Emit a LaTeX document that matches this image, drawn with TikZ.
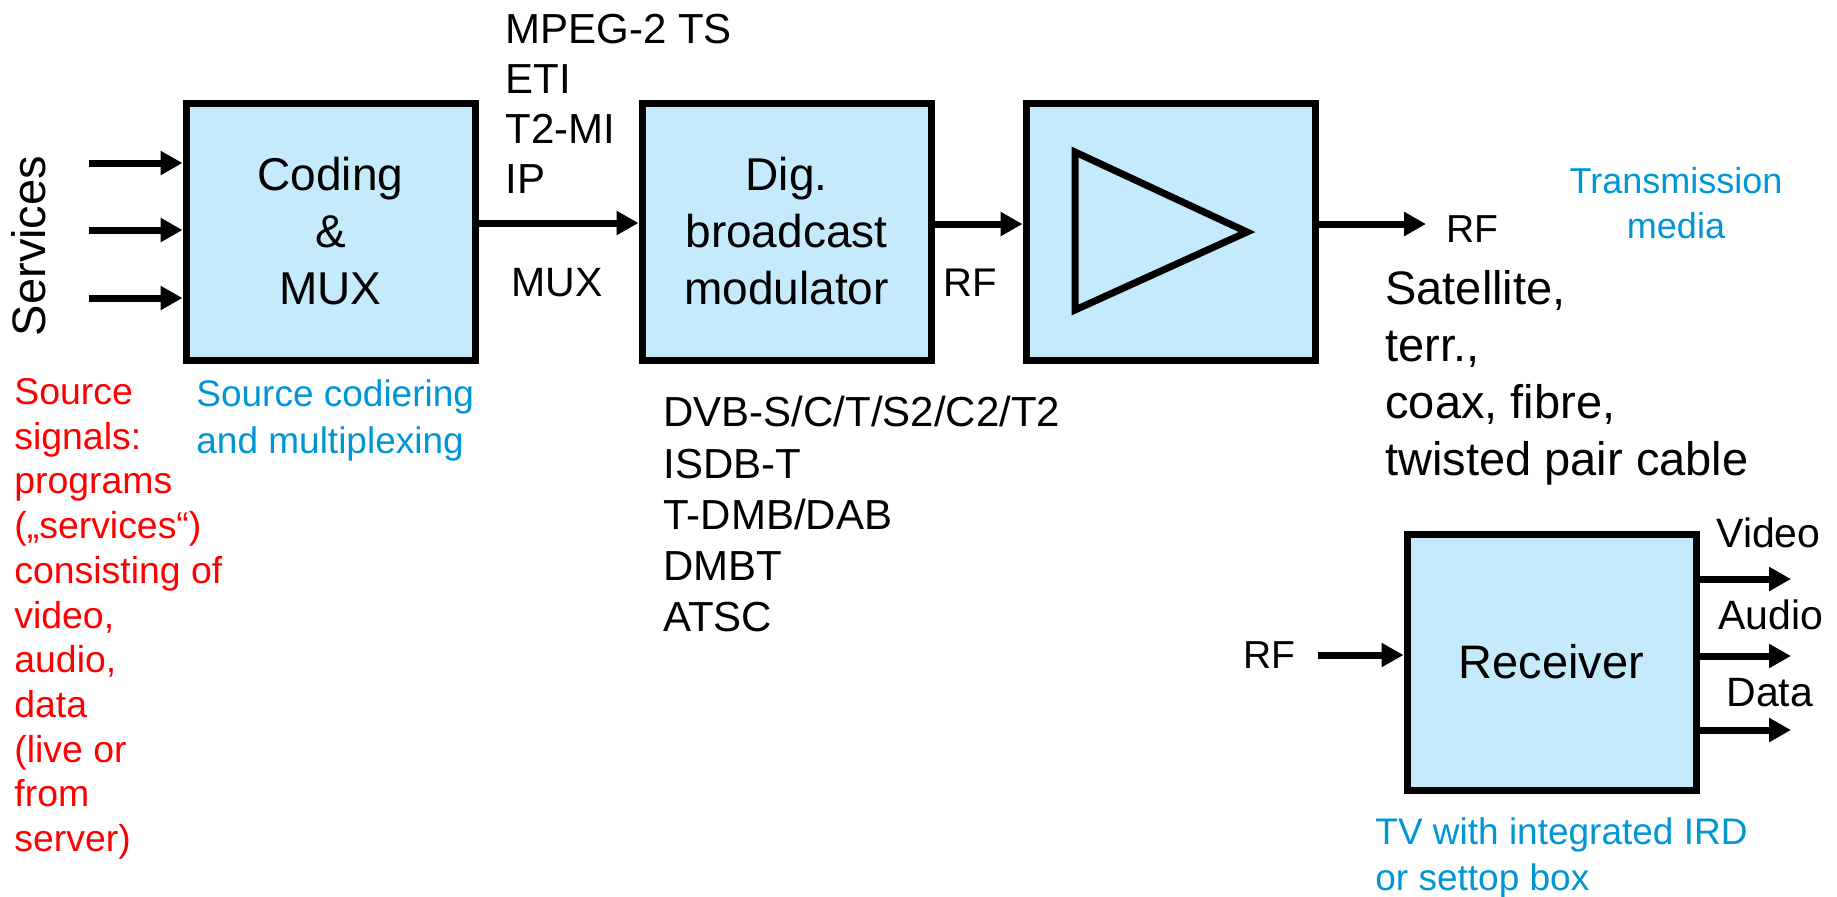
\documentclass[tikz,border=0pt]{standalone}
\usepackage{fontspec}
\setmainfont{Liberation Sans}
\usetikzlibrary{arrows.meta}
\definecolor{boxfill}{HTML}{C4EAFB}
\definecolor{bluetxt}{HTML}{0096D6}
\definecolor{redtxt}{HTML}{FF0000}
\begin{document}
\begin{tikzpicture}[x=0.5pt,y=-0.5pt,
  blk/.style={draw=black, line width=3.5pt, fill=boxfill, inner sep=0pt, align=center,
    minimum width=144.5pt, minimum height=128.5pt,
    font=\fontsize{23}{28.5}\selectfont},
  arr/.style={line width=3.5pt, -{Triangle[length=11pt,width=11.5pt]}},
  lbl/.style={inner sep=0pt, align=left},
  txt/.style={inner sep=0pt},
]
\useasboundingbox (0,0) rectangle (1837,896);

% blocks
\node[blk] (coding) at (330.5,231.5) {Coding\\\&\\MUX};
\node[blk] (dig) at (786.5,231.5) {Dig.\\broadcast\\modulator};
\node[blk] (amp) at (1170.5,231.5) {};
\node[blk, font=\fontsize{23.5}{28}\selectfont, minimum height=128pt] (rx) at (1551.5,662) {Receiver};

% amplifier symbol
\draw[line width=3.5pt, line join=miter] (1075,152) -- (1247,232) -- (1075,310) -- cycle;

% services inputs
\coordinate (s1) at (89,163);
\coordinate (s2) at (89,230);
\coordinate (s3) at (89,298);
\draw[arr] (s1) -- (s1 -| coding.west);
\draw[arr] (s2) -- (s2 -| coding.west);
\draw[arr] (s3) -- (s3 -| coding.west);

% chain
\draw[arr] ([yshift=4.25pt]coding.east) -- ([yshift=4.25pt]dig.west);
\draw[arr] ([yshift=3.75pt]dig.east) -- ([yshift=3.75pt]amp.west);
\coordinate (rfo) at (1426,224);
\draw[arr] (rfo -| amp.east) -- (rfo);

% receiver
\coordinate (rin) at (1318,655);
\draw[arr] (rin) -- (rin -| rx.west);
\coordinate (ov) at (1791,579);
\coordinate (oa) at (1791,656);
\coordinate (od) at (1791,730);
\draw[arr] (ov -| rx.east) -- (ov);
\draw[arr] (oa -| rx.east) -- (oa);
\draw[arr] (od -| rx.east) -- (od);

% labels
\node[txt, rotate=90, font=\fontsize{23.5}{28}\selectfont] (svc) at (29,246) {Services};

\node[lbl, anchor=north west, font=\fontsize{21}{25}\selectfont] (fmt) at (505,14)
  {MPEG-2 TS\\ETI\\T2-MI\\IP};
\node[txt, font=\fontsize{20.5}{24}\selectfont] (muxl) at (557,283) {MUX};
\node[txt, font=\fontsize{20}{24}\selectfont] (rfm) at (970,283) {RF};
\node[txt, anchor=west, font=\fontsize{19.5}{24}\selectfont] (rfr) at (1446,229) {RF};
\node[txt, align=center, text=bluetxt, font=\fontsize{18}{22.5}\selectfont] (tm) at (1676,203) {Transmission\\media};
\node[lbl, anchor=north west, font=\fontsize{23.5}{28.5}\selectfont] (media) at (1385,270)
  {Satellite,\\terr.,\\coax, fibre,\\twisted pair cable};
\node[lbl, anchor=north west, font=\fontsize{21}{25.6}\selectfont] (std) at (663,396)
  {DVB-S/C/T/S2/C2/T2\\ISDB-T\\T-DMB/DAB\\DMBT\\ATSC};
\node[lbl, anchor=north west, text=redtxt, font=\fontsize{18.7}{22.35}\selectfont] (src) at (14,378)
  {Source\\signals:\\programs\\(„services“)\\consisting of\\video,\\audio,\\data\\(live or\\from\\server)};
\node[lbl, anchor=north west, text=bluetxt, font=\fontsize{18.5}{23.5}\selectfont] (scm) at (196,379)
  {Source codiering\\and multiplexing};
\node[lbl, anchor=north west, text=bluetxt, font=\fontsize{18.5}{23}\selectfont] (tv) at (1375,817)
  {TV with integrated IRD\\or settop box};
\node[txt, font=\fontsize{19.5}{24}\selectfont] (rfin) at (1269,655) {RF};
\node[txt, anchor=west, font=\fontsize{20.5}{24}\selectfont] (lv) at (1716,533) {Video};
\node[txt, anchor=west, font=\fontsize{20.5}{24}\selectfont] (la) at (1718,615) {Audio};
\node[txt, anchor=west, font=\fontsize{20.5}{24}\selectfont] (ld) at (1726,693) {Data};
\end{tikzpicture}
\end{document}
